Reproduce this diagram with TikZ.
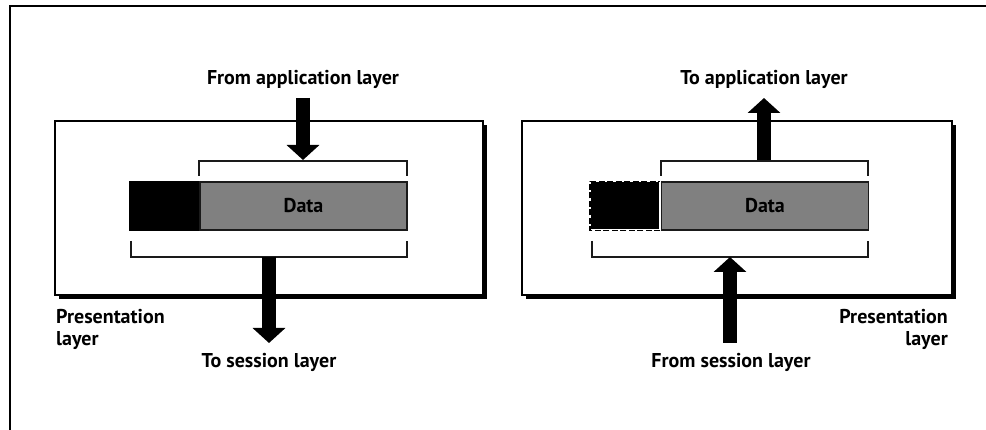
\documentclass[tikz,border=0pt]{standalone}
\usepackage{fontspec}
\setmainfont{PT Sans}
\usetikzlibrary{arrows.meta,positioning}
\definecolor{datagray}{HTML}{808080}
\definecolor{rim}{HTML}{1A1A1A}
\tikzset{
  lbl/.style={font=\fontsize{20}{22.5}\selectfont\bfseries, inner sep=0pt},
  panel/.style={draw=black, line width=1.3pt, fill=white},
  hdr/.style={fill=black, draw=black, line width=1.5pt, minimum width=69pt, minimum height=48pt, inner sep=0pt},
  payload/.style={fill=datagray, draw=rim, line width=1.5pt, minimum width=207pt, minimum height=48pt, inner sep=0pt, font=\fontsize{20}{22}\selectfont\bfseries},
  brk/.style={draw=rim, line width=1.6pt},
  flow/.style={line width=14pt, -{Triangle[length=15pt,width=32pt]}}
}

\begin{document}
\begin{tikzpicture}[x=1pt, y=-1pt]
  \useasboundingbox (0,0) rectangle (986,430);
  \draw[line width=2pt] (10,430) -- (10,6) -- (986,6);

  % sending side
  \fill (59,125) rectangle (487,299);
  \draw[panel] (55,121) rectangle (483,295);
  \node[payload] (dataL) at (303.5,206) {Data};
  \node[hdr, left=0pt of dataL] (hdrL) {};
  \draw[brk] (199,176) -- (199,161) -- (407,161) -- (407,176);
  \draw[brk] (131,241) -- (131,257) -- (407,257) -- (407,241);

  \node[lbl, anchor=base] (fromapp) at (303,85) {From application layer};
  \node[lbl, anchor=base] (tosess) at (269,368) {To session layer};
  \node[lbl, anchor=north west, align=left] (presL) at (56,309) {Presentation\\layer};

  \coordinate (inL) at (303,98);
  \coordinate (topL) at (303,160);
  \coordinate (botL) at (269,257);
  \coordinate (outL) at (269,343);
  \draw[flow] (inL) -- (topL);
  \draw[flow] (botL) -- (outL);

  % receiving side
  \fill (526,125) rectangle (956,299);
  \draw[panel] (522,121) rectangle (952,295);
  \node[payload] (dataR) at (765,206) {Data};
  \node[hdr, draw=white, line width=1pt, left=0.5pt of dataR] (hdrR) {};
  \draw[line width=1.8pt, dash pattern=on 6pt off 2.5pt] (hdrR.south east) -- (hdrR.south west) -- (hdrR.north west) -- (hdrR.north east);
  \draw[brk] (661,176) -- (661,161) -- (868,161) -- (868,176);
  \draw[brk] (592,241) -- (592,257) -- (868,257) -- (868,241);

  \node[lbl, anchor=base] (toapp) at (764,85) {To application layer};
  \node[lbl, anchor=base] (fromsess) at (731,368) {From session layer};
  \node[lbl, anchor=north east, align=right] (presR) at (948,309) {Presentation\\layer};

  \coordinate (topR) at (764,160);
  \coordinate (upR) at (764,98);
  \coordinate (inR) at (730,343);
  \coordinate (botR) at (730,257);
  \draw[flow] (topR) -- (upR);
  \draw[flow] (inR) -- (botR);
\end{tikzpicture}
\end{document}
